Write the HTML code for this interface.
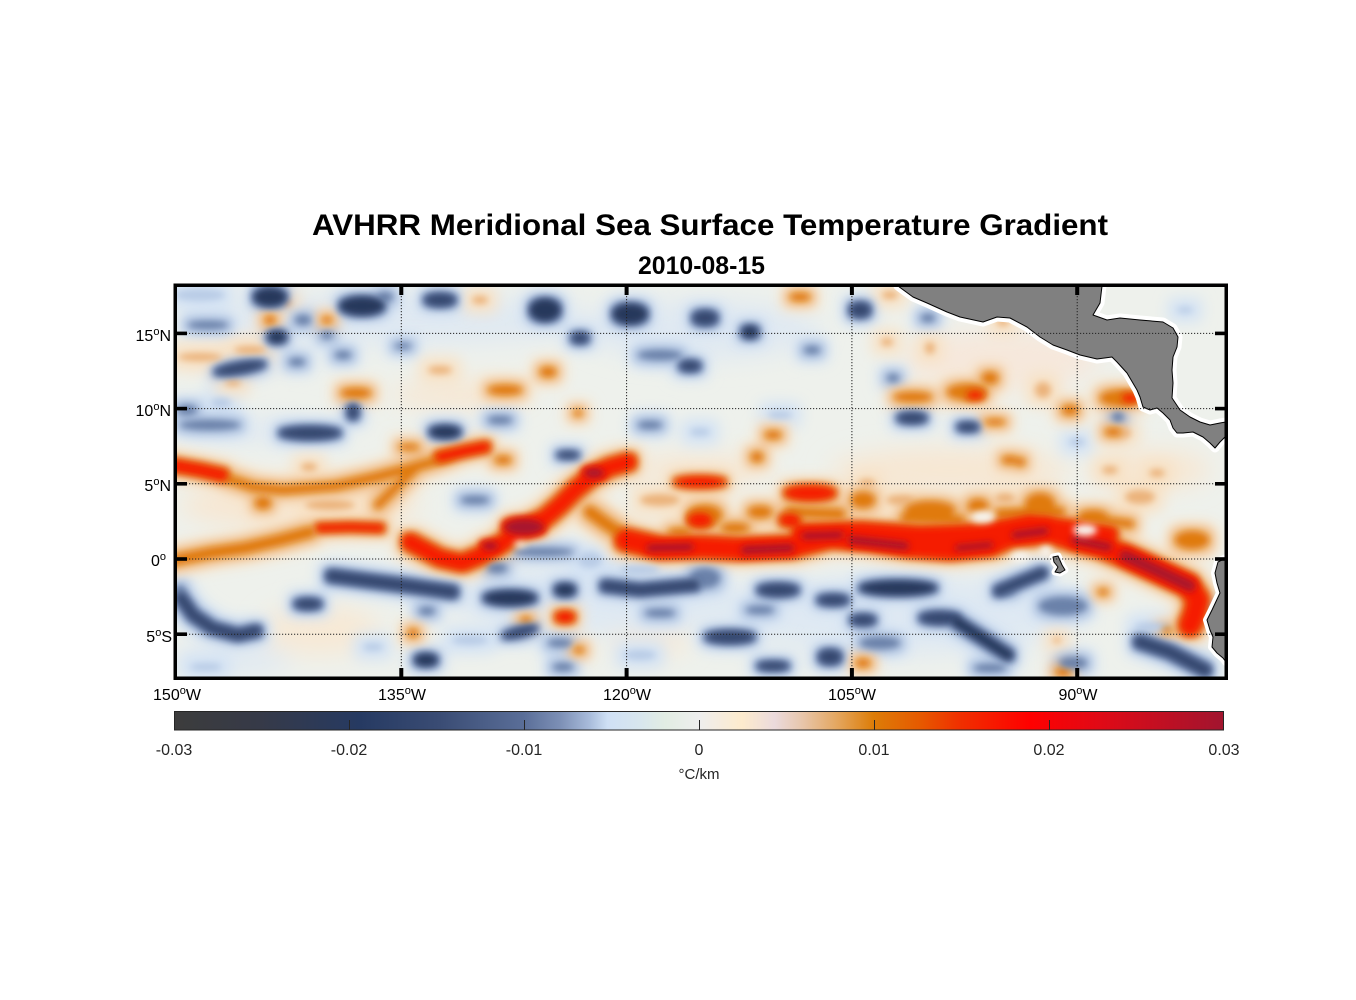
<!DOCTYPE html>
<html>
<head>
<meta charset="utf-8">
<style>
html,body{margin:0;padding:0;background:#fff;}
svg{display:block;}
text{font-family:"Liberation Sans",Arial,sans-serif;}
</style>
</head>
<body>
<svg width="1356" height="1000" viewBox="0 0 1356 1000" xmlns="http://www.w3.org/2000/svg">
<defs>
  <clipPath id="mc"><rect x="177" y="287" width="1048" height="390"/></clipPath>
  <linearGradient id="cb" x1="174" y1="0" x2="1224" y2="0" gradientUnits="userSpaceOnUse">
    <stop offset="0" stop-color="#3c3c3c"/>
    <stop offset="0.082" stop-color="#363a48"/>
    <stop offset="0.177" stop-color="#263a62"/>
    <stop offset="0.253" stop-color="#3a4c74"/>
    <stop offset="0.333" stop-color="#5a6e98"/>
    <stop offset="0.368" stop-color="#7d90b6"/>
    <stop offset="0.396" stop-color="#a9bcdb"/>
    <stop offset="0.413" stop-color="#cfe0f5"/>
    <stop offset="0.444" stop-color="#d8e6ee"/>
    <stop offset="0.468" stop-color="#e2ede3"/>
    <stop offset="0.5" stop-color="#eeeeee"/>
    <stop offset="0.541" stop-color="#fdebcd"/>
    <stop offset="0.572" stop-color="#ebdadc"/>
    <stop offset="0.596" stop-color="#e8c8b0"/>
    <stop offset="0.630" stop-color="#e4a863"/>
    <stop offset="0.666" stop-color="#dd7d08"/>
    <stop offset="0.710" stop-color="#e65a00"/>
    <stop offset="0.748" stop-color="#f03000"/>
    <stop offset="0.815" stop-color="#ff0000"/>
    <stop offset="0.882" stop-color="#e00a16"/>
    <stop offset="1" stop-color="#a1152f"/>
  </linearGradient>
  <filter id="fW" filterUnits="userSpaceOnUse" x="100" y="200" width="1200" height="550"><feGaussianBlur stdDeviation="12"/></filter>
  <filter id="fH1" filterUnits="userSpaceOnUse" x="100" y="200" width="1200" height="550"><feMorphology operator="dilate" radius="9"/><feGaussianBlur stdDeviation="7"/></filter>
  <filter id="fH2" filterUnits="userSpaceOnUse" x="100" y="200" width="1200" height="550"><feMorphology operator="dilate" radius="5"/><feGaussianBlur stdDeviation="5"/></filter>
  <filter id="fH3" filterUnits="userSpaceOnUse" x="100" y="200" width="1200" height="550"><feMorphology operator="dilate" radius="2.5"/><feGaussianBlur stdDeviation="3.5"/></filter>
  <filter id="fC" filterUnits="userSpaceOnUse" x="100" y="200" width="1200" height="550"><feGaussianBlur stdDeviation="3.4"/></filter>

  <g id="navyD">
    <ellipse cx="270" cy="297" rx="16" ry="9"/>
    <ellipse cx="277" cy="337" rx="9" ry="6"/>
    <ellipse cx="362" cy="306" rx="22" ry="9"/>
    <ellipse cx="545" cy="310" rx="15" ry="11"/>
    <ellipse cx="630" cy="314" rx="17" ry="10"/>
    <ellipse cx="750" cy="332" rx="8" ry="6"/>
    <ellipse cx="445" cy="432" rx="15" ry="6"/>
    <ellipse cx="510" cy="598" rx="26" ry="7"/>
    <ellipse cx="565" cy="590" rx="10" ry="6"/>
    <ellipse cx="898" cy="588" rx="38" ry="7"/>
    <ellipse cx="426" cy="660" rx="11" ry="6"/>
    <path d="M957,622 L982,638 L1008,655" fill="none" stroke="currentColor" stroke-width="10" stroke-linecap="round" stroke-linejoin="round"/>
  </g>
  <g id="navy">
    <ellipse cx="440" cy="300" rx="15" ry="6"/>
    <ellipse cx="580" cy="338" rx="8" ry="5"/>
    <ellipse cx="705" cy="318" rx="12" ry="7"/>
    <ellipse cx="860" cy="310" rx="10" ry="7"/>
    <ellipse cx="690" cy="366" rx="10" ry="5"/>
    <ellipse cx="240" cy="368" rx="25" ry="5" transform="rotate(-10 240 368)"/>
    <ellipse cx="353" cy="412" rx="5" ry="7"/>
    <ellipse cx="912" cy="418" rx="14" ry="5"/>
    <ellipse cx="968" cy="427" rx="10" ry="4"/>
    <ellipse cx="310" cy="433" rx="30" ry="6"/>
    <ellipse cx="568" cy="455" rx="10" ry="3"/>
    <ellipse cx="308" cy="604" rx="13" ry="5"/>
    <ellipse cx="778" cy="590" rx="20" ry="6"/>
    <ellipse cx="833" cy="600" rx="15" ry="5"/>
    <ellipse cx="863" cy="620" rx="12" ry="5"/>
    <ellipse cx="940" cy="618" rx="20" ry="6"/>
    <ellipse cx="730" cy="637" rx="24" ry="6"/>
    <ellipse cx="773" cy="666" rx="15" ry="4"/>
    <ellipse cx="830" cy="657" rx="11" ry="7"/>
    <ellipse cx="520" cy="632" rx="17" ry="4" transform="rotate(-15 520 632)"/>
    <path d="M181,598 L193,615 L212,628 L238,635 L256,631" fill="none" stroke="currentColor" stroke-width="10" stroke-linecap="round" stroke-linejoin="round"/>
    <path d="M332,576 L370,581 L410,586 L452,592" fill="none" stroke="currentColor" stroke-width="11" stroke-linecap="round" stroke-linejoin="round"/>
    <path d="M606,586 L640,590 L694,585" fill="none" stroke="currentColor" stroke-width="10" stroke-linecap="round" stroke-linejoin="round"/>
    <path d="M999,591 L1020,582 L1042,573" fill="none" stroke="currentColor" stroke-width="9" stroke-linecap="round" stroke-linejoin="round"/>
    <path d="M1140,642 L1170,652 L1205,670" fill="none" stroke="currentColor" stroke-width="11" stroke-linecap="round" stroke-linejoin="round"/>
  </g>
  <g id="blueM">
    <ellipse cx="385" cy="297" rx="8" ry="5"/>
    <ellipse cx="208" cy="325" rx="20" ry="4"/>
    <ellipse cx="303" cy="320" rx="8" ry="5"/>
    <ellipse cx="327" cy="335" rx="6" ry="4"/>
    <ellipse cx="343" cy="355" rx="8" ry="4"/>
    <ellipse cx="297" cy="362" rx="8" ry="4"/>
    <ellipse cx="187" cy="410" rx="10" ry="5"/>
    <ellipse cx="403" cy="346" rx="8" ry="3"/>
    <ellipse cx="660" cy="355" rx="22" ry="5"/>
    <ellipse cx="812" cy="350" rx="8" ry="4"/>
    <ellipse cx="928" cy="318" rx="7" ry="4"/>
    <ellipse cx="893" cy="378" rx="6" ry="4"/>
    <ellipse cx="1118" cy="417" rx="6" ry="5"/>
    <ellipse cx="210" cy="425" rx="30" ry="5"/>
    <ellipse cx="500" cy="420" rx="12" ry="4"/>
    <ellipse cx="650" cy="425" rx="12" ry="4"/>
    <ellipse cx="475" cy="500" rx="14" ry="4"/>
    <ellipse cx="180" cy="592" rx="5" ry="7"/>
    <ellipse cx="427" cy="611" rx="8" ry="4"/>
    <ellipse cx="497" cy="568" rx="10" ry="5"/>
    <ellipse cx="543" cy="552" rx="30" ry="4"/>
    <ellipse cx="560" cy="643" rx="12" ry="4"/>
    <ellipse cx="563" cy="667" rx="10" ry="4"/>
    <ellipse cx="660" cy="613" rx="15" ry="4"/>
    <ellipse cx="705" cy="578" rx="15" ry="10"/>
    <ellipse cx="880" cy="643" rx="20" ry="6"/>
    <ellipse cx="1063" cy="606" rx="24" ry="9"/>
    <ellipse cx="1073" cy="663" rx="14" ry="6"/>
    <ellipse cx="1007" cy="590" rx="8" ry="5"/>
    <ellipse cx="1215" cy="607" rx="5" ry="4"/>
    <ellipse cx="760" cy="610" rx="14" ry="4"/>
    <ellipse cx="990" cy="668" rx="16" ry="4"/>
  </g>
  <g id="blueL">
    <ellipse cx="221" cy="403" rx="10" ry="5"/>
    <ellipse cx="700" cy="432" rx="10" ry="4"/>
    <ellipse cx="780" cy="415" rx="12" ry="4"/>
    <ellipse cx="1077" cy="442" rx="8" ry="4"/>
    <ellipse cx="206" cy="667" rx="16" ry="4"/>
    <ellipse cx="590" cy="560" rx="12" ry="8"/>
    <ellipse cx="373" cy="647" rx="10" ry="4"/>
    <ellipse cx="1153" cy="627" rx="18" ry="5"/>
    <ellipse cx="200" cy="295" rx="25" ry="6"/>
    <ellipse cx="1185" cy="310" rx="8" ry="3"/>
    <ellipse cx="640" cy="570" rx="20" ry="5"/>
    <ellipse cx="470" cy="640" rx="18" ry="5"/>
    <ellipse cx="640" cy="655" rx="16" ry="5"/>
  </g>
  <g id="orgL">
    <ellipse cx="287" cy="303" rx="5" ry="3"/>
    <ellipse cx="200" cy="357" rx="22" ry="4"/>
    <ellipse cx="250" cy="350" rx="16" ry="4"/>
    <ellipse cx="233" cy="383" rx="8" ry="3"/>
    <ellipse cx="480" cy="300" rx="8" ry="4"/>
    <ellipse cx="890" cy="295" rx="8" ry="4"/>
    <ellipse cx="887" cy="342" rx="6" ry="4"/>
    <ellipse cx="930" cy="348" rx="5" ry="6"/>
    <ellipse cx="1003" cy="322" rx="6" ry="4"/>
    <ellipse cx="1043" cy="390" rx="8" ry="8"/>
    <ellipse cx="1123" cy="433" rx="8" ry="4"/>
    <ellipse cx="867" cy="483" rx="8" ry="4"/>
    <ellipse cx="1140" cy="497" rx="15" ry="7"/>
    <ellipse cx="309" cy="467" rx="8" ry="4"/>
    <ellipse cx="1057" cy="640" rx="4" ry="3"/>
    <ellipse cx="440" cy="370" rx="12" ry="4"/>
    <ellipse cx="1110" cy="470" rx="8" ry="4"/>
    <ellipse cx="1157" cy="473" rx="8" ry="4"/>
    <ellipse cx="330" cy="505" rx="25" ry="5"/>
    <ellipse cx="660" cy="500" rx="20" ry="6"/>
    <ellipse cx="900" cy="500" rx="14" ry="5"/>
    <ellipse cx="1005" cy="498" rx="10" ry="5"/>
  </g>
  <g id="org">
    <ellipse cx="270" cy="320" rx="5" ry="4"/>
    <ellipse cx="327" cy="320" rx="5" ry="3"/>
    <ellipse cx="356" cy="393" rx="15" ry="5"/>
    <ellipse cx="505" cy="390" rx="17" ry="5"/>
    <ellipse cx="548" cy="372" rx="8" ry="5"/>
    <ellipse cx="578" cy="413" rx="4" ry="3"/>
    <ellipse cx="800" cy="297" rx="10" ry="4"/>
    <ellipse cx="913" cy="397" rx="19" ry="5"/>
    <ellipse cx="967" cy="392" rx="20" ry="8"/>
    <ellipse cx="990" cy="378" rx="8" ry="6"/>
    <ellipse cx="1070" cy="410" rx="8" ry="5"/>
    <ellipse cx="995" cy="422" rx="10" ry="3"/>
    <ellipse cx="1020" cy="462" rx="5" ry="4"/>
    <ellipse cx="773" cy="435" rx="8" ry="4"/>
    <ellipse cx="757" cy="457" rx="6" ry="5"/>
    <ellipse cx="1010" cy="460" rx="8" ry="4"/>
    <ellipse cx="1113" cy="432" rx="8" ry="4"/>
    <ellipse cx="1120" cy="398" rx="20" ry="8"/>
    <ellipse cx="263" cy="503" rx="8" ry="6"/>
    <ellipse cx="409" cy="447" rx="10" ry="3"/>
    <ellipse cx="503" cy="460" rx="8" ry="4"/>
    <ellipse cx="863" cy="500" rx="12" ry="8"/>
    <ellipse cx="930" cy="510" rx="25" ry="9"/>
    <ellipse cx="978" cy="506" rx="10" ry="7"/>
    <ellipse cx="1040" cy="505" rx="15" ry="12"/>
    <ellipse cx="1093" cy="517" rx="15" ry="7"/>
    <ellipse cx="1192" cy="540" rx="17" ry="9"/>
    <ellipse cx="760" cy="512" rx="12" ry="6"/>
    <ellipse cx="705" cy="515" rx="17" ry="10"/>
    <ellipse cx="526" cy="620" rx="5" ry="3"/>
    <ellipse cx="579" cy="650" rx="5" ry="3"/>
    <ellipse cx="413" cy="633" rx="5" ry="4"/>
    <ellipse cx="863" cy="663" rx="7" ry="4"/>
    <ellipse cx="1063" cy="672" rx="7" ry="4"/>
    <ellipse cx="1103" cy="592" rx="5" ry="3"/>
    <ellipse cx="1167" cy="630" rx="5" ry="3"/>
    <ellipse cx="735" cy="528" rx="14" ry="5"/>
    <ellipse cx="680" cy="532" rx="12" ry="4"/>
    <path d="M226,478 L253,487 L283,490 L310,488 L336,486 L376,477 L403,470 L429,463 L450,456" fill="none" stroke="currentColor" stroke-width="9" stroke-linecap="round" stroke-linejoin="round"/>
    <path d="M378,505 L396,487 L416,468" fill="none" stroke="currentColor" stroke-width="8" stroke-linecap="round" stroke-linejoin="round"/>
    <path d="M170,561 L210,553 L245,548 L280,540 L310,532" fill="none" stroke="currentColor" stroke-width="11" stroke-linecap="round" stroke-linejoin="round"/>
    <path d="M590,512 L605,523 L620,533" fill="none" stroke="currentColor" stroke-width="12" stroke-linecap="round" stroke-linejoin="round"/>
    <path d="M790,512 L840,514" fill="none" stroke="currentColor" stroke-width="10" stroke-linecap="round"/>
    <path d="M905,518 L960,520" fill="none" stroke="currentColor" stroke-width="9" stroke-linecap="round"/>
    <path d="M1000,514 L1060,512" fill="none" stroke="currentColor" stroke-width="10" stroke-linecap="round"/>
    <path d="M1100,520 L1130,524" fill="none" stroke="currentColor" stroke-width="8" stroke-linecap="round"/>
  </g>
  <g id="red">
    <path d="M626,540 L660,548 L700,547 L740,549 L790,547 L830,537 L870,540 L910,546 L950,549 L990,545 L1010,536 L1050,532 L1075,540 L1100,546 L1125,556 L1160,572 L1188,585 L1198,600 L1194,616 L1190,625" fill="none" stroke="currentColor" stroke-width="20" stroke-linecap="round" stroke-linejoin="round"/>
    <path d="M800,532 L860,530 L920,534 L980,532 L1030,522 L1070,528 L1110,534" fill="none" stroke="currentColor" stroke-width="14" stroke-linecap="round" stroke-linejoin="round"/>
    <path d="M410,542 L440,558 L462,563 L482,555 L500,545 L520,530 L545,518 L560,505 L575,490 L592,476 L610,467 L628,462" fill="none" stroke="currentColor" stroke-width="15" stroke-linecap="round" stroke-linejoin="round"/>
    <path d="M320,528 L350,527 L380,528" fill="none" stroke="currentColor" stroke-width="7" stroke-linecap="round"/>
    <path d="M165,464 L200,470 L222,475" fill="none" stroke="currentColor" stroke-width="11" stroke-linecap="round"/>
    <path d="M440,457 L465,451 L485,447" fill="none" stroke="currentColor" stroke-width="9" stroke-linecap="round"/>
    <ellipse cx="810" cy="493" rx="25" ry="7"/>
    <ellipse cx="790" cy="520" rx="10" ry="6"/>
    <ellipse cx="1040" cy="522" rx="18" ry="6"/>
    <ellipse cx="700" cy="482" rx="25" ry="5"/>
    <ellipse cx="700" cy="520" rx="12" ry="7"/>
    <ellipse cx="565" cy="617" rx="9" ry="5"/>
    <ellipse cx="975" cy="395" rx="8" ry="4"/>
    <ellipse cx="1130" cy="398" rx="8" ry="4"/>
  </g>
  <g id="crim">
    <path d="M650,548 L690,547" fill="none" stroke="currentColor" stroke-width="7" stroke-linecap="round"/>
    <path d="M745,550 L790,548" fill="none" stroke="currentColor" stroke-width="8" stroke-linecap="round"/>
    <path d="M805,536 L840,535" fill="none" stroke="currentColor" stroke-width="7" stroke-linecap="round"/>
    <path d="M852,540 L905,546" fill="none" stroke="currentColor" stroke-width="8" stroke-linecap="round"/>
    <path d="M958,548 L990,545" fill="none" stroke="currentColor" stroke-width="6" stroke-linecap="round"/>
    <path d="M1015,535 L1045,531" fill="none" stroke="currentColor" stroke-width="7" stroke-linecap="round"/>
    <path d="M1075,540 L1108,547" fill="none" stroke="currentColor" stroke-width="8" stroke-linecap="round"/>
    <path d="M1125,556 L1160,572 L1190,586" fill="none" stroke="currentColor" stroke-width="11" stroke-linecap="round" stroke-linejoin="round"/>
    <ellipse cx="524" cy="527" rx="20" ry="8"/>
    <ellipse cx="490" cy="546" rx="8" ry="4"/>
    <ellipse cx="594" cy="473" rx="10" ry="5"/>
  </g>

  <g id="allOrg"><use href="#orgL"/><use href="#org"/><use href="#red"/><use href="#crim"/></g>
  <g id="orgRC"><use href="#org"/><use href="#red"/><use href="#crim"/></g>
  <g id="redC"><use href="#red"/><use href="#crim"/></g>
  <g id="allBlue"><use href="#blueL"/><use href="#blueM"/><use href="#navy"/><use href="#navyD"/></g>
  <g id="blueMN"><use href="#blueM"/><use href="#navy"/><use href="#navyD"/></g>
  <g id="navyAll"><use href="#navy"/><use href="#navyD"/></g>
</defs>

<text x="710" y="235" text-anchor="middle" font-size="30" font-weight="bold" fill="#000" textLength="796" lengthAdjust="spacingAndGlyphs">AVHRR Meridional Sea Surface Temperature Gradient</text>
<text x="701.5" y="274" text-anchor="middle" font-size="25" font-weight="bold" fill="#000" textLength="127" lengthAdjust="spacingAndGlyphs">2010-08-15</text>

<g clip-path="url(#mc)">
  <rect x="170" y="280" width="1070" height="410" fill="#eef1ec"/>
  <g filter="url(#fW)">
    <ellipse cx="300" cy="505" rx="120" ry="25" fill="#f7e7d3"/>
    <ellipse cx="230" cy="355" rx="60" ry="12" fill="#f7e7d3"/>
    <ellipse cx="460" cy="395" rx="70" ry="14" fill="#f7e7d3"/>
    <ellipse cx="700" cy="470" rx="70" ry="15" fill="#f7e7d3"/>
    <ellipse cx="950" cy="470" rx="120" ry="22" fill="#f7e7d3"/>
    <ellipse cx="320" cy="630" rx="60" ry="25" fill="#f7e9d6"/>
    <ellipse cx="1000" cy="360" rx="100" ry="30" fill="#f6e8dc"/>
    <ellipse cx="650" cy="640" rx="40" ry="15" fill="#f7e9d6"/>
    <ellipse cx="1150" cy="470" rx="60" ry="20" fill="#f7e7d3"/>
    <ellipse cx="600" cy="600" rx="150" ry="35" fill="#dfe9f3"/>
    <ellipse cx="900" cy="615" rx="180" ry="40" fill="#dfe9f3"/>
    <ellipse cx="400" cy="320" rx="200" ry="25" fill="#e0e9f2"/>
    <ellipse cx="250" cy="430" rx="70" ry="12" fill="#e0e9f2"/>
    <ellipse cx="230" cy="660" rx="60" ry="15" fill="#e0e9f2"/>
    <ellipse cx="700" cy="330" rx="120" ry="30" fill="#e0e9f2"/>
  </g>

  <use href="#allBlue" fill="#d4e3f4" color="#d4e3f4" filter="url(#fH1)"/>
  <use href="#allOrg" fill="#f8e2c6" color="#f8e2c6" filter="url(#fH1)"/>
  <use href="#blueMN" fill="#adc1df" color="#adc1df" filter="url(#fH2)"/>
  <use href="#orgRC" fill="#eeb880" color="#eeb880" filter="url(#fH2)"/>
  <use href="#orgL" fill="#ebb27a" color="#ebb27a" filter="url(#fC)"/>
  <use href="#blueL" fill="#b9cce6" color="#b9cce6" filter="url(#fC)"/>
  <use href="#redC" fill="#e47218" color="#e47218" filter="url(#fH3)"/>
  <use href="#org" fill="#e07a10" color="#e07a10" filter="url(#fC)"/>
  <use href="#navyAll" fill="#6a80aa" color="#6a80aa" filter="url(#fH3)"/>
  <use href="#blueM" fill="#6a81a9" color="#6a81a9" filter="url(#fC)"/>
  <use href="#crim" fill="#f52200" color="#f52200" filter="url(#fH3)"/>
  <use href="#red" fill="#f51a00" color="#f51a00" filter="url(#fC)"/>
  <use href="#navy" fill="#34466e" color="#34466e" filter="url(#fC)"/>
  <use href="#navyD" fill="#28385c" color="#28385c" filter="url(#fC)"/>
  <use href="#crim" fill="#a8152e" color="#a8152e" filter="url(#fC)"/>

  <g filter="url(#fC)" fill="#f6f4f0">
    <ellipse cx="983" cy="517" rx="12" ry="6"/>
    <ellipse cx="1085" cy="530" rx="12" ry="6"/>
    <ellipse cx="1020" cy="557" rx="9" ry="5"/>
    <ellipse cx="1046" cy="551" rx="6" ry="5"/>
    <ellipse cx="520" cy="544" rx="6" ry="3"/>
  </g>

  <g stroke-linejoin="round">
    <path d="M898,286 L913,297 L927,303 L947,312 L960,317 L983,322 L997,317 L1010,318 L1027,327 L1040,337 L1053,345 L1067,350 L1080,355 L1097,359 L1112,357 L1117,362 L1127,373 L1137,390 L1140,397 L1143,407 L1150,410 L1157,408 L1163,413 L1170,420 L1173,428 L1177,433 L1183,433 L1193,432 L1203,437 L1210,443 L1215,448 L1220,442 L1226,436 L1226,422 L1220,423 L1210,425 L1200,422 L1190,417 L1180,410 L1172,398 L1173,383 L1172,370 L1173,357 L1177,347 L1178,337 L1173,328 L1163,322 L1140,320 L1120,318 L1107,320 L1093,315 L1100,303 L1102,286 Z" fill="#fff" stroke="#fff" stroke-width="9"/>
    <path d="M1226,558 L1218,562 L1215,573 L1217,583 L1220,593 L1212,610 L1207,620 L1210,630 L1213,637 L1212,647 L1217,653 L1223,658 L1226,662 L1232,662 L1232,558 Z" fill="#fff" stroke="#fff" stroke-width="8"/>
    <path d="M1053,557 L1058,556 L1062,565 L1065,570 L1060,573 L1055,572 L1058,567 L1054,562 Z" fill="#fff" stroke="#fff" stroke-width="7"/>
    <path d="M898,286 L913,297 L927,303 L947,312 L960,317 L983,322 L997,317 L1010,318 L1027,327 L1040,337 L1053,345 L1067,350 L1080,355 L1097,359 L1112,357 L1117,362 L1127,373 L1137,390 L1140,397 L1143,407 L1150,410 L1157,408 L1163,413 L1170,420 L1173,428 L1177,433 L1183,433 L1193,432 L1203,437 L1210,443 L1215,448 L1220,442 L1226,436 L1226,422 L1220,423 L1210,425 L1200,422 L1190,417 L1180,410 L1172,398 L1173,383 L1172,370 L1173,357 L1177,347 L1178,337 L1173,328 L1163,322 L1140,320 L1120,318 L1107,320 L1093,315 L1100,303 L1102,286 Z" fill="#808080" stroke="#000" stroke-width="1"/>
    <path d="M1226,558 L1218,562 L1215,573 L1217,583 L1220,593 L1212,610 L1207,620 L1210,630 L1213,637 L1212,647 L1217,653 L1223,658 L1226,662 L1232,662 L1232,558 Z" fill="#808080" stroke="#000" stroke-width="1"/>
    <path d="M1053,557 L1058,556 L1062,565 L1065,570 L1060,573 L1055,572 L1058,567 L1054,562 Z" fill="#808080" stroke="#000" stroke-width="1"/>
  </g>

  <g stroke="#222" stroke-width="1" stroke-dasharray="1.2 1.8" fill="none">
    <line x1="401.3" y1="287" x2="401.3" y2="677"/>
    <line x1="626.6" y1="287" x2="626.6" y2="677"/>
    <line x1="851.9" y1="287" x2="851.9" y2="677"/>
    <line x1="1077.2" y1="287" x2="1077.2" y2="677"/>
    <line x1="177" y1="333.4" x2="1225" y2="333.4"/>
    <line x1="177" y1="408.6" x2="1225" y2="408.6"/>
    <line x1="177" y1="483.8" x2="1225" y2="483.8"/>
    <line x1="177" y1="559" x2="1225" y2="559"/>
    <line x1="177" y1="634.2" x2="1225" y2="634.2"/>
  </g>
</g>

<rect x="175.25" y="285.25" width="1051" height="393" fill="none" stroke="#000" stroke-width="3.5"/>
<g fill="#000">
  <rect x="399.3" y="287" width="4" height="8"/>
  <rect x="624.6" y="287" width="4" height="8"/>
  <rect x="849.9" y="287" width="4" height="8"/>
  <rect x="1075.2" y="287" width="4" height="8"/>
  <rect x="399.3" y="668" width="4" height="9"/>
  <rect x="624.6" y="668" width="4" height="9"/>
  <rect x="849.9" y="668" width="4" height="9"/>
  <rect x="1075.2" y="668" width="4" height="9"/>
  <rect x="177" y="331.6" width="10" height="3.6"/>
  <rect x="177" y="406.8" width="10" height="3.6"/>
  <rect x="177" y="482" width="10" height="3.6"/>
  <rect x="177" y="557.2" width="10" height="3.6"/>
  <rect x="177" y="632.4" width="10" height="3.6"/>
  <rect x="1215" y="331.6" width="10" height="3.6"/>
  <rect x="1215" y="406.8" width="10" height="3.6"/>
  <rect x="1215" y="482" width="10" height="3.6"/>
  <rect x="1215" y="557.2" width="10" height="3.6"/>
  <rect x="1215" y="632.4" width="10" height="3.6"/>
</g>

<g font-size="16" fill="#000">
  <text x="171" y="341" text-anchor="end">15<tspan dy="-6" font-size="11">o</tspan><tspan dy="6">N</tspan></text>
  <text x="171" y="416" text-anchor="end">10<tspan dy="-6" font-size="11">o</tspan><tspan dy="6">N</tspan></text>
  <text x="171" y="491" text-anchor="end">5<tspan dy="-6" font-size="11">o</tspan><tspan dy="6">N</tspan></text>
  <text x="166" y="566" text-anchor="end">0<tspan dy="-6" font-size="11">o</tspan></text>
  <text x="172" y="642" text-anchor="end">5<tspan dy="-6" font-size="11">o</tspan><tspan dy="6">S</tspan></text>
</g>
<g font-size="16" fill="#000" text-anchor="middle">
  <text x="177" y="700">150<tspan dy="-6" font-size="11">o</tspan><tspan dy="6">W</tspan></text>
  <text x="402" y="700">135<tspan dy="-6" font-size="11">o</tspan><tspan dy="6">W</tspan></text>
  <text x="627" y="700">120<tspan dy="-6" font-size="11">o</tspan><tspan dy="6">W</tspan></text>
  <text x="852" y="700">105<tspan dy="-6" font-size="11">o</tspan><tspan dy="6">W</tspan></text>
  <text x="1078" y="700">90<tspan dy="-6" font-size="11">o</tspan><tspan dy="6">W</tspan></text>
</g>

<rect x="174.5" y="711.5" width="1049" height="18.5" fill="url(#cb)" stroke="#262626" stroke-width="1"/>
<g stroke="#262626" stroke-width="1">
  <line x1="349.5" y1="720" x2="349.5" y2="730"/>
  <line x1="524.5" y1="720" x2="524.5" y2="730"/>
  <line x1="699.5" y1="720" x2="699.5" y2="730"/>
  <line x1="874.5" y1="720" x2="874.5" y2="730"/>
  <line x1="1049.5" y1="720" x2="1049.5" y2="730"/>
</g>
<g font-size="16" fill="#262626" text-anchor="middle">
  <text x="174" y="755">-0.03</text>
  <text x="349" y="755">-0.02</text>
  <text x="524" y="755">-0.01</text>
  <text x="699" y="755">0</text>
  <text x="874" y="755">0.01</text>
  <text x="1049" y="755">0.02</text>
  <text x="1224" y="755">0.03</text>
  <text x="699" y="779" font-size="15">°C/km</text>
</g>
</svg>
</body>
</html>
